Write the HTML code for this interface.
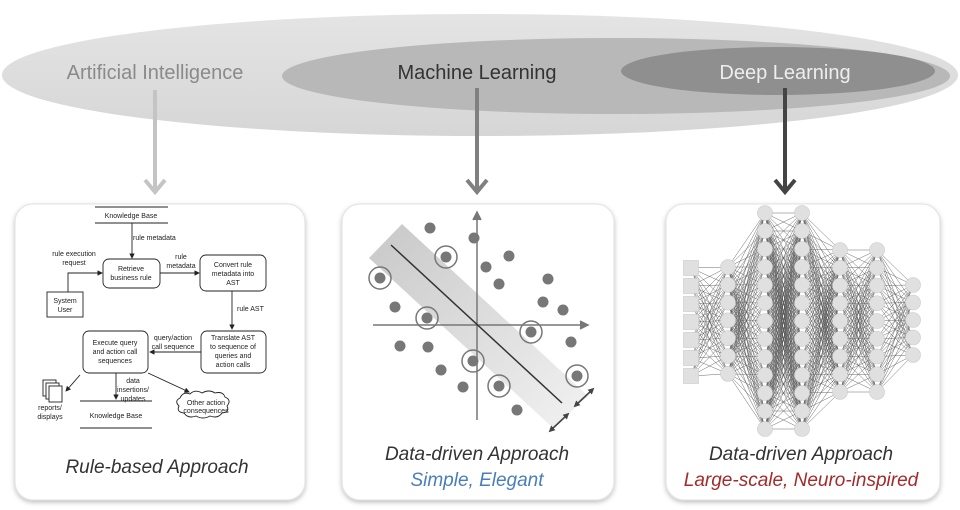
<!DOCTYPE html>
<html><head><meta charset="utf-8"><style>
body{margin:0;background:#fff;width:960px;height:510px;overflow:hidden}
svg{display:block}
.f{font-family:"Liberation Sans",sans-serif;font-size:7px;fill:#222;text-anchor:middle}
.c{font-family:"Liberation Sans",sans-serif;font-style:italic;font-size:19px;text-anchor:middle}
</style></head><body>
<svg width="960" height="510" viewBox="0 0 960 510" xmlns="http://www.w3.org/2000/svg">
<defs>
<marker id="a" markerWidth="6" markerHeight="6" refX="5" refY="3" orient="auto"><path d="M0,0L6,3L0,6z" fill="#222"/></marker>
<marker id="b" markerWidth="4" markerHeight="4" refX="2" refY="2" orient="auto-start-reverse"><path d="M0,0L4,2L0,4z" fill="#444"/></marker>
<linearGradient id="g" x1="0" y1="0" x2="1" y2="1"><stop offset="0" stop-color="#c8c8c8"/><stop offset="1" stop-color="#f2f2f2"/></linearGradient>
<linearGradient id="e1" x1="0" y1="0" x2="0" y2="1"><stop offset="0" stop-color="#e4e4e4"/><stop offset="1" stop-color="#d6d6d6"/></linearGradient>
<filter id="sh" x="-10%" y="-10%" width="120%" height="120%"><feDropShadow dx="0" dy="2" stdDeviation="2.5" flood-color="#000" flood-opacity="0.25"/></filter>
</defs>
<ellipse cx="480" cy="75" rx="478" ry="61" fill="url(#e1)"/>
<ellipse cx="616" cy="76" rx="334" ry="38" fill="#b8b8b8"/>
<ellipse cx="778" cy="71" rx="157" ry="24" fill="#8f8f8f"/>
<text x="155" y="79" font-family="Liberation Sans,sans-serif" font-size="20" fill="#8a8a8a" text-anchor="middle">Artificial Intelligence</text>
<text x="477" y="79" font-family="Liberation Sans,sans-serif" font-size="20" fill="#333" text-anchor="middle">Machine Learning</text>
<text x="785" y="79" font-family="Liberation Sans,sans-serif" font-size="20" fill="#eee" text-anchor="middle">Deep Learning</text>
<g stroke-width="4" fill="none">
<path d="M155,90V190" stroke="#c4c4c4"/><path d="M145,180L155,192L165,180" stroke="#c4c4c4"/>
<path d="M477,88V190" stroke="#808080"/><path d="M467,180L477,192L487,180" stroke="#808080"/>
<path d="M785,88V190" stroke="#444"/><path d="M775,180L785,192L795,180" stroke="#444"/>
</g>
<g fill="#fff" stroke="#e2e2e2" filter="url(#sh)">
<rect x="15" y="204" width="290" height="296" rx="18"/>
<rect x="342" y="204" width="272" height="296" rx="18"/>
<rect x="666" y="204" width="274" height="296" rx="18"/>
</g>
<g stroke="#222" stroke-width="0.9" fill="none">
<path d="M95,207H168M95,223H168M80,401H152M80,428H152"/>
<path d="M132,223V258" marker-end="url(#a)"/>
<rect x="103" y="259" width="57" height="29" rx="6"/>
<rect x="47" y="292" width="36" height="25"/>
<path d="M68,292V273H102" marker-end="url(#a)"/>
<path d="M160,273H199" marker-end="url(#a)"/>
<rect x="200" y="255" width="66" height="36" rx="6"/>
<path d="M232,291V329" marker-end="url(#a)"/>
<rect x="201" y="331" width="65" height="42" rx="6"/>
<path d="M201,352H150" marker-end="url(#a)"/>
<rect x="83" y="331" width="65" height="42" rx="6"/>
<path d="M80,375L66,391" marker-end="url(#a)"/>
<path d="M116,373V399" marker-end="url(#a)"/>
<path d="M148,373L189,392" marker-end="url(#a)"/>
<rect x="43" y="380" width="13" height="16" fill="#fff"/><rect x="46" y="383" width="13" height="16" fill="#fff"/><rect x="49" y="386" width="13" height="16" fill="#fff"/>
<path d="M180,398q3,-7 10,-4q5,-5 12,-1q7,-4 13,0q8,-2 10,4q7,3 2,9q3,6 -5,7q-4,6 -12,3q-7,4 -14,0q-8,3 -12,-3q-8,-1 -5,-7q-5,-5 1,-8z" fill="#fff"/>
</g>
<g class="f">
<text x="131" y="218">Knowledge Base</text>
<text x="133" y="240" text-anchor="start">rule metadata</text>
<text x="74" y="256">rule execution</text><text x="74" y="265">request</text>
<text x="131" y="271">Retrieve</text><text x="131" y="280">business rule</text>
<text x="65" y="303">System</text><text x="65" y="312">User</text>
<text x="181" y="259">rule</text><text x="181" y="268">metadata</text>
<text x="233" y="267">Convert rule</text><text x="233" y="276">metadata into</text><text x="233" y="285">AST</text>
<text x="237" y="311" text-anchor="start">rule AST</text>
<text x="233" y="340">Translate AST</text><text x="233" y="349">to sequence of</text><text x="233" y="358">queries and</text><text x="233" y="367">action calls</text>
<text x="173" y="340">query/action</text><text x="173" y="349">call sequence</text>
<text x="115" y="345">Execute query</text><text x="115" y="354">and action call</text><text x="115" y="363">sequences</text>
<text x="50" y="410">reports/</text><text x="50" y="419">displays</text>
<text x="116" y="418">Knowledge Base</text>
<text x="133" y="383">data</text><text x="133" y="392">insertions/</text><text x="133" y="401">updates</text>
<text x="206" y="405">Other action</text><text x="206" y="413">consequences</text>
</g>
<text class="c" x="157" y="473" fill="#333">Rule-based Approach</text>
<polygon points="402,224 588,396 553,428 369,258" fill="url(#g)"/>
<g stroke="#777" stroke-width="1.5" fill="none">
<path d="M477,420V214"/><path d="M373,325H586"/>
<path d="M473,220L477,212L481,220M580,321L588,325L580,329" fill="#777"/>
</g>
<path d="M391,245L562,403" stroke="#333" stroke-width="1.5"/>
<g fill="#777">
<circle cx="430" cy="228" r="5.5"/><circle cx="474" cy="238" r="5.5"/><circle cx="446" cy="257" r="5.5"/><circle cx="509" cy="256" r="5.5"/><circle cx="486" cy="267" r="5.5"/><circle cx="380" cy="278" r="5.5"/><circle cx="499" cy="284" r="5.5"/><circle cx="548" cy="279" r="5.5"/><circle cx="543" cy="302" r="5.5"/><circle cx="563" cy="310" r="5.5"/><circle cx="395" cy="307" r="5.5"/><circle cx="427" cy="318" r="5.5"/><circle cx="531" cy="332" r="5.5"/><circle cx="400" cy="346" r="5.5"/><circle cx="428" cy="347" r="5.5"/><circle cx="571" cy="342" r="5.5"/><circle cx="473" cy="361" r="5.5"/><circle cx="441" cy="370" r="5.5"/><circle cx="577" cy="376" r="5.5"/><circle cx="463" cy="387" r="5.5"/><circle cx="499" cy="386" r="5.5"/><circle cx="517" cy="410" r="5.5"/>
</g>
<g fill="none" stroke="#777" stroke-width="1.5">
<circle cx="446" cy="257" r="11"/><circle cx="380" cy="278" r="11"/><circle cx="427" cy="318" r="11"/><circle cx="531" cy="332" r="11"/><circle cx="473" cy="361" r="11"/><circle cx="577" cy="376" r="11"/><circle cx="499" cy="386" r="11"/>
</g>
<g stroke="#444" stroke-width="1.6" marker-start="url(#b)" marker-end="url(#b)">
<path d="M551,430L567,415"/><path d="M576,405L592,390"/>
</g>
<text class="c" x="477" y="460" fill="#333">Data-driven Approach</text>
<text class="c" x="477" y="486" fill="#4a7ebb">Simple, Elegant</text>
<g id="nnl" stroke="#222" stroke-width="0.45" opacity="0.75"></g>
<g id="nnn" fill="#e0e0e0" stroke="#c8c8c8" stroke-width="0.6"></g>
<text class="c" x="801" y="460" fill="#333">Data-driven Approach</text>
<text class="c" x="801" y="486" fill="#a52a2a">Large-scale, Neuro-inspired</text>
</svg>
<script>
(function(){
var L=[[691,268,18,7],[728,267,17.8,7],[765,213,18,13],[802,213,18,13],[840,250,17.75,9],[877,250,17.75,9],[913,285,17.5,5]];
var ns="http://www.w3.org/2000/svg",gl=document.getElementById("nnl"),gn=document.getElementById("nnn");
function mk(t,o,p){var e=document.createElementNS(ns,t);for(var k in o)e.setAttribute(k,o[k]);p.appendChild(e);}
for(var i=0;i<L.length-1;i++){var a=L[i],b=L[i+1];for(var j=0;j<a[3];j++)for(var k=0;k<b[3];k++)mk("line",{x1:a[0],y1:a[1]+j*a[2],x2:b[0],y2:b[1]+k*b[2]},gl);}
for(var i=0;i<L.length;i++){var a=L[i];for(var j=0;j<a[3];j++){var y=a[1]+j*a[2];if(i==0)mk("rect",{x:a[0]-7.5,y:y-7.5,width:15,height:15},gn);else mk("circle",{cx:a[0],cy:y,r:7.5},gn);}}
})();
</script>
</body></html>
